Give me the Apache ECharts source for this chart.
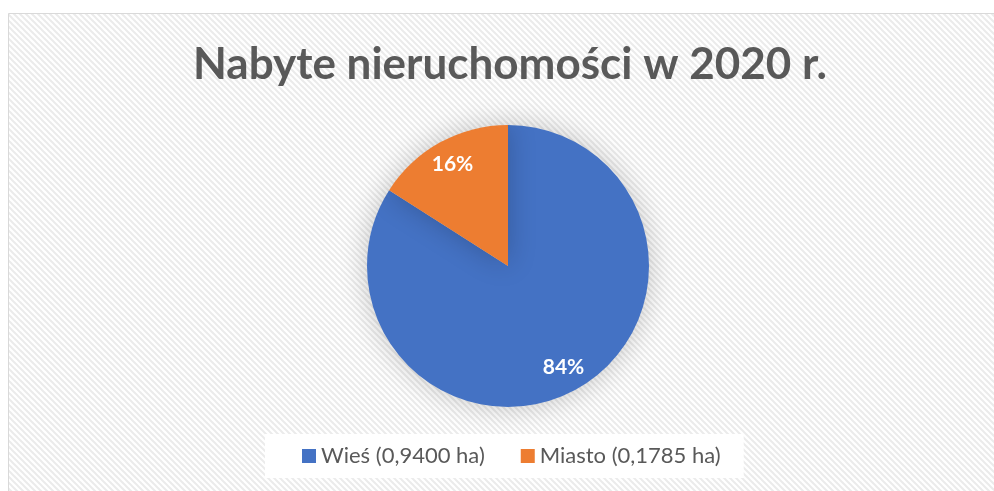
<!DOCTYPE html>
<html>
<head>
<meta charset="utf-8">
<script src="https://cdn.jsdelivr.net/npm/echarts@6/dist/echarts.min.js"></script>
<style>
  html, body { margin: 0; padding: 0; background: #fff; }
  #main { width: 994px; height: 491px; }
</style>
</head>
<body>
<div id="main"></div>
<script>
//== dane wykresu
var categories = ['Wieś (0,9400 ha)', 'Miasto (0,1785 ha)'];
var areas = [0.9400, 0.1785];
var colors = ['#4472c4', '#ed7d31'];
var titleText = 'Nabyte nieruchomości w 2020 r.';

//== tło w ukośne paski
var makeHatch = function () {
    var c = document.createElement('canvas');
    c.width = 6;
    c.height = 6;
    var ctx = c.getContext('2d');
    ctx.fillStyle = '#ffffff';
    ctx.fillRect(0, 0, 6, 6);
    ctx.strokeStyle = '#ebebeb';
    ctx.lineWidth = 2;
    ctx.beginPath();
    ctx.moveTo(-1, -1); ctx.lineTo(7, 7);
    ctx.moveTo(-1, 5); ctx.lineTo(1, 7);
    ctx.moveTo(5, -1); ctx.lineTo(7, 1);
    ctx.stroke();
    return c;
};

var chartData = categories.map(function (name, i) {
    return { name: name, value: areas[i], itemStyle: { color: colors[i] } };
});

var myChart = echarts.init(document.getElementById('main'));
var option = {
    backgroundColor: '#ffffff',
    textStyle: { fontFamily: 'Lato' },
    graphic: [{
        type: 'rect',
        z: -10,
        silent: true,
        shape: { x: 8.5, y: 13.5, width: 994, height: 491 },
        style: { fill: { image: makeHatch(), repeat: 'repeat' }, stroke: '#d9d9d9', lineWidth: 1 }
    }],
    title: {
        text: titleText,
        left: 188,
        top: 38,
        textStyle: { fontSize: 44, fontWeight: 'bold', color: '#595959', fontFamily: 'Lato' }
    },
    legend: {
        data: categories,
        left: 265,
        top: 434,
        icon: 'rect',
        itemWidth: 14,
        itemHeight: 14,
        itemGap: 36,
        padding: [11, 23, 11, 37],
        backgroundColor: '#ffffff',
        textStyle: { fontSize: 22, color: '#595959' },
        selectedMode: false
    },
    series: [{
        type: 'pie',
        center: [508, 266],
        radius: [0, 141],
        startAngle: 90,
        clockwise: true,
        silent: true,
        label: { show: false },
        labelLine: { show: false },
        itemStyle: { shadowBlur: 28, shadowColor: 'rgba(0,0,0,0.22)' },
        data: chartData
    }, {
        //== warstwa z etykietami procentowymi
        type: 'pie',
        center: [508, 266],
        radius: [84, 141],
        startAngle: 90,
        clockwise: true,
        silent: true,
        legendHoverLink: false,
        itemStyle: { color: 'rgba(0,0,0,0)' },
        label: {
            show: true,
            position: 'inside',
            formatter: function (p) { return Math.round(p.percent) + '%'; },
            color: '#ffffff',
            fontSize: 21,
            fontWeight: 'bold',
            fontFamily: 'Lato'
        },
        labelLine: { show: false },
        data: categories.map(function (name, i) {
            return { name: name, value: areas[i] };
        })
    }]
};
myChart.setOption(option);
</script>
</body>
</html>
